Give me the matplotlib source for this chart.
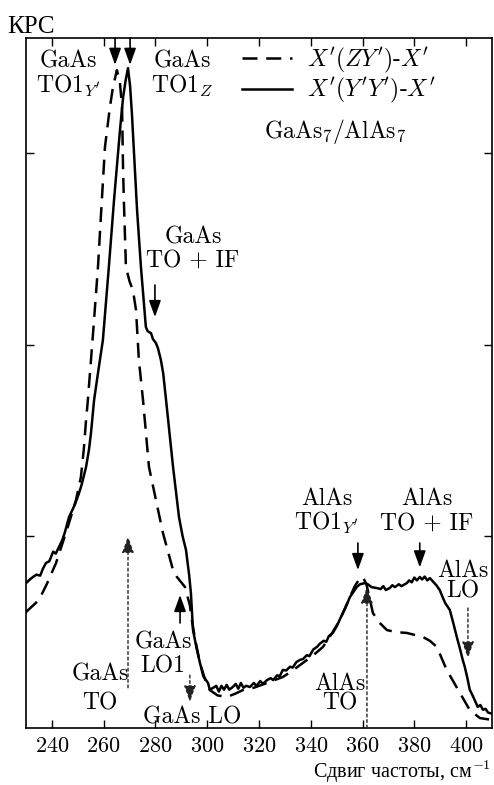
import matplotlib
matplotlib.use("Agg")
import matplotlib.pyplot as plt

plt.rcParams['font.family'] = ['cmr10', 'DejaVu Serif']
plt.rcParams['mathtext.fontset'] = 'cm'
plt.rcParams['axes.formatter.use_mathtext'] = True
plt.rcParams['font.size'] = 17

# X'(Y'Y')-X'  (solid)
x_solid = [230.0, 231.5, 232.7, 234.0, 235.5, 236.5, 237.7, 239.0, 240.5, 241.5, 242.7, 244.0,
           245.0, 246.6, 248.0, 249.0, 250.5, 251.5, 253.2, 254.3, 255.1, 256.3, 258.0, 259.7,
           262.0, 264.0, 266.3, 267.5, 268.5, 269.4, 270.2, 270.9, 272.9, 274.4, 276.3, 277.0,
           278.3, 279.0, 280.2, 281.0, 282.1, 283.0, 284.1, 286.8, 289.1, 290.5, 291.8, 293.0,
           293.7, 294.5, 296.0, 297.2, 298.5, 299.5, 300.3, 301.0, 302.2, 303.5, 304.5, 305.5,
           306.5, 307.5, 308.5, 309.9, 311.0, 312.0, 313.0, 314.0, 315.0, 316.5, 318.0, 319.0,
           320.5, 321.5, 323.1, 324.5, 325.5, 327.0, 328.0, 329.2, 330.5, 332.0, 333.0, 334.5,
           335.8, 337.0, 338.5, 339.5, 341.0, 342.4, 343.5, 345.0, 346.0, 347.0, 348.5, 350.0,
           351.0, 352.4, 353.5, 355.1, 356.5, 357.8, 359.0, 360.9, 362.0, 363.5, 365.5, 367.0,
           368.0, 369.0, 370.5, 371.5, 372.5, 374.0, 375.0, 377.1, 378.0, 379.0, 380.0, 381.0,
           382.1, 383.0, 384.0, 385.0, 386.0, 387.5, 388.5, 389.8, 391.0, 392.0, 393.7, 395.0,
           396.4, 397.5, 398.7, 399.5, 400.5, 401.4, 402.5, 403.5, 404.5, 405.5, 406.5, 407.5,
           408.5, 410.0]
y_solid = [0.756, 0.775, 0.788, 0.800, 0.795, 0.830, 0.861, 0.870, 0.920, 0.910, 0.944, 0.980,
           1.020, 1.100, 1.140, 1.170, 1.226, 1.270, 1.362, 1.450, 1.539, 1.711, 1.870, 2.024,
           2.405, 2.754, 3.119, 3.290, 3.380, 3.443, 3.350, 3.208, 2.702, 2.405, 2.092, 2.070,
           2.060, 2.030, 2.008, 1.980, 1.920, 1.850, 1.711, 1.362, 1.100, 1.000, 0.929, 0.800,
           0.704, 0.511, 0.410, 0.339, 0.270, 0.250, 0.235, 0.200, 0.209, 0.220, 0.190, 0.220,
           0.200, 0.225, 0.200, 0.214, 0.230, 0.205, 0.235, 0.210, 0.220, 0.214, 0.235, 0.220,
           0.245, 0.230, 0.250, 0.260, 0.250, 0.275, 0.270, 0.303, 0.300, 0.320, 0.315, 0.345,
           0.355, 0.360, 0.380, 0.375, 0.410, 0.423, 0.440, 0.455, 0.450, 0.480, 0.496, 0.530,
           0.560, 0.600, 0.630, 0.683, 0.710, 0.736, 0.750, 0.756, 0.750, 0.735, 0.730, 0.725,
           0.740, 0.720, 0.730, 0.745, 0.735, 0.750, 0.740, 0.756, 0.770, 0.760, 0.785, 0.770,
           0.788, 0.775, 0.790, 0.770, 0.782, 0.760, 0.745, 0.720, 0.680, 0.650, 0.616, 0.550,
           0.475, 0.420, 0.355, 0.318, 0.260, 0.200, 0.170, 0.140, 0.110, 0.120, 0.095, 0.100,
           0.080, 0.075]

# X'(ZY')-X'  (dashed)
x_dash = [230.0, 232.0, 235.0, 238.0, 241.6, 244.0, 246.6, 249.3, 251.2, 252.3, 253.2, 253.9,
          255.9, 257.8, 259.0, 260.5, 262.4, 263.6, 265.1, 266.2, 267.1, 267.5, 267.8, 268.6,
          270.0, 271.3, 272.5, 273.6, 275.2, 277.5, 280.2, 282.9, 286.8, 288.3, 291.4, 293.3,
          294.1, 295.5, 297.2, 299.0, 301.0, 304.0, 307.6, 311.0, 313.8, 318.0, 323.1, 329.2,
          333.0, 336.9, 341.0, 344.7, 348.0, 351.2, 355.1, 357.0, 359.0, 360.1, 361.5, 364.0,
          366.5, 369.4, 373.0, 377.1, 383.3, 386.0, 388.7, 392.5, 397.6, 401.4, 405.3, 410.0]
y_dash = [0.605, 0.630, 0.668, 0.750, 0.861, 0.960, 1.069, 1.189, 1.309, 1.450, 1.607, 1.711,
          2.060, 2.405, 2.686, 3.031, 3.239, 3.344, 3.432, 3.380, 3.239, 2.911, 2.754, 2.405,
          2.330, 2.285, 2.180, 1.920, 1.711, 1.362, 1.189, 1.017, 0.824, 0.788, 0.736, 0.640,
          0.560, 0.450, 0.339, 0.260, 0.198, 0.170, 0.162, 0.180, 0.198, 0.210, 0.235, 0.266,
          0.300, 0.339, 0.380, 0.423, 0.490, 0.563, 0.683, 0.740, 0.782, 0.788, 0.750, 0.600,
          0.550, 0.511, 0.500, 0.496, 0.475, 0.455, 0.423, 0.303, 0.183, 0.094, 0.052, 0.042]

x_ticks = [240, 260, 280, 300, 320, 340, 360, 380, 400]
y_ticks = [1, 2, 3]

# text labels: (x, y, text)
labels = [
    (246.2, 3.448, "GaAs"), (246.2, 3.312, r"TO1$_{Y'}$"),
    (290.2, 3.448, "GaAs"), (290.2, 3.312, r"TO1$_{Z}$"),
    (349.3, 3.078, r"GaAs$_7$/AlAs$_7$"),
    (294.5, 2.530, "GaAs"), (294.5, 2.405, "TO + IF"),
    (258.6, 0.250, "GaAs"), (258.6, 0.094, "TO"),
    (282.9, 0.417, "GaAs"), (282.9, 0.292, "LO1"),
    (294.1, 0.026, "GaAs LO"),
    (351.2, 0.198, "AlAs"), (351.2, 0.094, "TO"),
    (346.2, 1.163, "AlAs"), (346.2, 1.033, r"TO1$_{Y'}$"),
    (384.8, 1.163, "AlAs"), (384.8, 1.033, "TO + IF"),
    (398.7, 0.788, "AlAs"), (398.7, 0.683, "LO"),
]

# arrows: (x, y_tail, y_tip)
solid_arrows = [(264.4, 3.60, 3.46), (270.2, 3.60, 3.46), (279.8, 2.311, 2.144),
                (289.5, 0.548, 0.694), (358.2, 0.965, 0.824), (382.1, 0.965, 0.838)]
dotted_arrows = [(269.4, 0.21, 1.0), (293.3, 0.276, 0.136), (361.7, 0.0, 0.736),
                 (400.7, 0.626, 0.365)]

fig = plt.figure(figsize=(4.94, 7.85), dpi=100)
ax = fig.add_axes([26 / 494, 57 / 785, 466 / 494, 690 / 785])

ax.plot(x_dash, y_dash, color='black', lw=1.8, ls=(0, (6, 3.5)), label=r"$X'(ZY')$-$X'$")
ax.plot(x_solid, y_solid, color='black', lw=1.8, label=r"$X'(Y'Y')$-$X'$")

for x, y, t in labels:
    ax.text(x, y, t, ha='center', va='baseline', fontsize=17)

for x, y0, y1 in solid_arrows:
    ax.annotate('', xy=(x, y1), xytext=(x, y0),
                arrowprops=dict(arrowstyle='-|>,head_length=0.5,head_width=0.18',
                                color='black', lw=1.2, mutation_scale=20, shrinkA=0, shrinkB=0))
for x, y0, y1 in dotted_arrows:
    ax.annotate('', xy=(x, y1), xytext=(x, y0),
                arrowprops=dict(arrowstyle='-|>,head_length=0.5,head_width=0.18',
                                color='#222222', lw=1.0, ls=(0, (2, 2)),
                                mutation_scale=20, shrinkA=0, shrinkB=0))

ax.set_xlim(230, 410)
ax.set_ylim(0, 3.6)
ax.set_xticks(x_ticks)
ax.set_yticks(y_ticks)
ax.set_yticklabels([])
ax.tick_params(direction='in', top=True, right=True, length=6, width=1, labelsize=16, pad=6)
for s in ax.spines.values():
    s.set_linewidth(1.2)

ax.legend(loc='upper left', bbox_to_anchor=((242 - 26) / 466, (728 - 46) / 690),
          frameon=False, borderaxespad=0, borderpad=0, handlelength=2.1,
          handletextpad=0.65, labelspacing=0.05, fontsize=17)

fig.text(7 / 494, 1 - 33 / 785, "КРС", ha='left', va='baseline', fontsize=18,
         family='Liberation Serif')
fig.text(0.994, 1 - 778 / 785, "Сдвиг частоты, см$^{-1}$", ha='right', va='baseline',
         fontsize=14.5, family='Liberation Serif')

fig.savefig("out.png", dpi=100)
